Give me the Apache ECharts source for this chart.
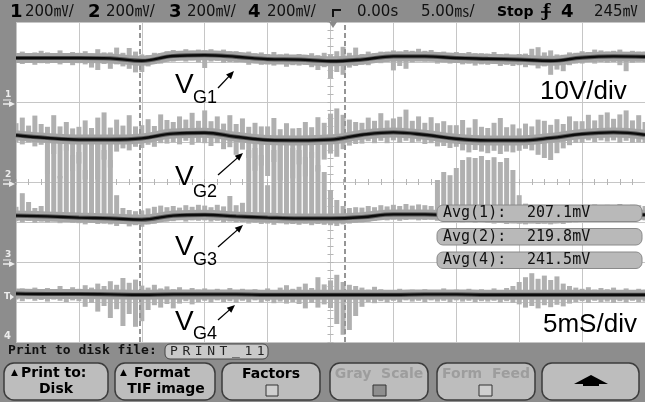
<!DOCTYPE html>
<html><head><meta charset="utf-8">
<script src="https://cdn.jsdelivr.net/npm/echarts@6/dist/echarts.min.js"></script>
<style>html,body{margin:0;padding:0;background:#8d8d8d}#c{width:645px;height:402px}</style>
</head><body><div id="c"></div>
<script>
// ---------------- DATA ----------------
// trace sample times (ms) and averaged gate voltages (V) per channel
const traceTimes = [-25,-22.5,-20,-17.5,-15,-12.5,-10,-7.5,-5,-2.5,0,2.5,5,7.5,10,12.5,15,17.5,20,22.5,25];
const ch1Trace = [11.0,11.0,11.0,10.9,10.3,11.5,11.7,11.3,10.7,10.6,10.2,10.6,11.4,11.4,11.0,10.8,10.6,10.3,11.1,11.4,11.3];
const ch2Trace = [11.7,11.0,10.6,10.6,10.9,12.1,12.3,11.3,10.5,10.4,10.6,11.8,12.4,11.8,10.8,10.4,10.4,11.0,12.0,12.4,11.8];
const ch3Trace = [11.6,11.4,11.1,10.9,10.6,11.6,11.8,11.4,11.1,10.9,10.9,11.2,11.9,11.9,11.5,11.1,10.9,10.9,11.5,11.9,11.8];
const ch4Trace = [12.1,12.0,12.0,11.9,11.8,11.9,11.9,11.9,11.8,11.8,11.8,11.8,11.8,11.9,11.9,11.8,11.8,11.8,11.8,11.8,11.8];

// noise envelope sample times (ms)
const noiseTimes = [-25,-24.5,-24,-23.5,-23,-22.5,-22,-21.5,-21,-20.5,-20,-19.5,-19,-18.5,-18,-17.5,-17,-16.5,-16,-15.5,-15,-14.5,-14,-13.5,-13,-12.5,-12,-11.5,-11,-10.5,-10,-9.5,-9,-8.5,-8,-7.5,-7,-6.5,-6,-5.5,-5,-4.5,-4,-3.5,-3,-2.5,-2,-1.5,-1,-0.5,0,0.5,1,1.5,2,2.5,3,3.5,4,4.5,5,5.5,6,6.5,7,7.5,8,8.5,9,9.5,10,10.5,11,11.5,12,12.5,13,13.5,14,14.5,15,15.5,16,16.5,17,17.5,18,18.5,19,19.5,20,20.5,21,21.5,22,22.5,23,23.5,24,24.5,25];

const ch1Hi = [12.2,12.6,12.0,12.4,12.8, 12.4,12.0,12.9,12.2,12.5, 12.3,12.7,12.1,13.2,12.4, 12.4,13.6,12.3,13.5,12.6, 11.9,11.7,12.3,12.2,12.7, 13.0,12.7,13.2,12.8,13.1, 12.9,13.2,12.6,13.1,12.7, 12.7,12.3,12.6,12.2,12.4, 12.0,12.5,11.9,12.1,11.7, 12.0,11.8,12.2,11.7,12.3, 11.8,12.7,13.8,12.3,13.6, 12.0,12.6,12.2,12.6,12.6, 12.9,12.6,13.0,12.8,13.3, 12.8,13.0,12.5,12.6,12.3, 12.5,12.2,12.5,12.2,12.2, 12.1,12.5,11.9,12.1,11.7, 12.0,12.1,13.3,13.7,12.4, 12.9,11.9,11.8,12.4,12.3, 12.7,12.5,13.1,12.9,12.6, 12.8,13.1,12.5,12.8,12.6, 12.6];
const ch1Lo = [9.8,9.5,10.0,9.3,9.7, 9.6,9.9,9.4,9.8,9.2, 9.7,9.4,8.6,8.0,9.5, 8.3,9.4,8.9,8.3,7.4, 7.5,8.9,9.5,9.6,10.1, 10.1,10.5,10.1,10.4,9.9, 8.5,10.1,10.3,9.8,10.0, 9.9,10.1,9.3,9.7,9.3, 9.4,9.1,9.5,8.8,9.2, 9.1,9.3,8.7,8.0,8.7, 6.0,7.5,6.8,8.6,9.0, 9.3,9.2,9.8,9.7,10.0, 7.9,9.0,8.3,9.9,10.2, 10.1,10.2,9.6,9.9,9.6, 9.8,9.4,9.6,9.1,9.4, 9.3,9.5,9.0,9.3,9.0, 9.2,8.7,9.2,8.4,8.9, 6.8,8.1,7.7,9.2,9.6, 9.6,10.0,9.6,10.0,9.8, 10.0,9.2,7.7,9.8,10.1, 10.0];

const ch2Hi = [14.7,16.1,14.1,16.6,14.5, 13.8,16.7,13.9,15.0,13.4, 13.8,15.4,13.5,16.1,17.4, 13.6,15.6,14.1,16.7,13.9, 14.2,15.7,14.0,16.9,15.5, 15.0,16.4,15.6,17.3,15.3, 17.9,15.2,16.4,14.6,16.7, 14.5,15.9,13.8,14.8,13.9, 13.9,16.0,13.2,14.7,13.4, 13.5,15.0,13.7,16.2,14.8, 17.1,18.4,16.8,15.6,15.0, 14.8,16.1,15.3,17.2,15.4, 15.9,16.3,18.1,15.3,16.4, 14.8,16.2,14.7,15.2,14.2, 14.2,15.5,13.6,15.7,13.8, 13.5,14.8,16.0,13.7,14.4, 13.4,14.6,13.9,15.6,15.3, 14.3,15.7,14.5,16.4,15.2, 15.2,16.8,15.4,16.8,17.4, 15.8,16.9,17.9,15.4,16.7, 15.0];
const ch2Lo = [9.9,9.4,9.9,8.9,9.3, 2.0,7.0,0.9,7.8,2.7, 4.6,0.6,2.1,0.6,5.6, 3.6,7.6,8.4,7.9,8.8, 8.5,9.3,8.8,9.7,9.6, 9.9,9.4,10.3,9.3,9.9, 9.7,9.0,9.7,8.2,8.7, 6.8,8.1,6.0,2.8,4.1, 1.5,5.0,0.4,3.4,0.9, 4.4,1.4,6.0,2.6,5.6, 7.1,6.3,8.2,9.1,9.5, 9.6,10.2,9.7,10.3,9.7, 10.4,9.8,10.3,9.8,10.1, 9.5,9.7,8.9,9.0,8.5, 8.8,7.9,7.4,8.0,7.6, 7.2,7.8,7.0,7.6,7.4, 7.8,8.3,7.9,6.8,6.0, 5.5,7.2,8.4,9.2,9.8, 9.8,10.4,10.0,10.4,10.1, 10.4,9.8,10.3,9.8,9.9, 9.8];

const ch3Hi = [13.8,17.2,15.0,13.5,14.0, 28.0,29.7,21.5,29.2,26.7, 27.5,23.0,29.2,29.7,28.0, 25.5,16.7,13.5,13.0,12.7, 12.9,13.4,13.8,14.1,13.7, 14.0,13.6,14.2,13.8,14.3, 14.1,13.7,14.3,13.9,16.5, 14.2,14.8,28.0,28.5,26.7, 19.2,28.0,29.2,27.5,28.5, 28.0,26.2,27.5,24.2,22.5, 18.0,15.5,14.0,13.5,13.7, 13.6,14.0,13.7,14.2,13.9, 14.3,14.0,14.5,14.1,14.4, 14.2,14.0,20.5,22.5,21.7, 23.5,25.5,26.2,26.0,26.5, 25.5,26.2,25.0,26.0,23.0, 16.7,14.6,13.9,14.2,13.8, 13.7,14.1,13.6,14.0,13.8, 14.2,13.9,14.4,14.0,14.3, 14.1,14.5,14.0,14.3,14.2, 14.0];
const ch3Lo = [10.2,9.9,10.3,9.8,10.1, 9.9,10.2,9.7,10.0,9.8, 9.7,9.4,9.8,9.5,9.6, 9.4,9.0,9.5,8.9,9.2, 8.8,9.4,9.6,10.0,10.1, 10.2,10.5,10.1,10.4,10.3, 10.4,10.1,10.3,9.9,10.1, 9.9,10.0,9.6,9.8,9.5, 9.6,9.3,9.7,9.4,9.5, 9.3,9.6,9.2,9.5,9.3, 9.2,9.0,9.4,9.6,9.8, 9.9,10.1,10.3,10.5,10.4, 10.6,10.3,10.5,10.7,10.4, 10.5,10.6,10.3,10.2,10.1, 10.1,9.9,10.2,9.8,10.0, 9.8,9.6,9.9,9.5,9.7, 9.6,9.4,9.7,9.5,9.6, 9.4,9.7,9.5,9.8,9.9, 10.1,10.3,10.0,10.4,10.5, 10.6,10.4,10.5,10.3,10.4, 10.4];

const ch4Hi = [12.8,13.4,12.9,13.6,13.1, 13.5,12.9,14.0,13.2,13.7, 13.3,14.2,13.6,14.6,14.0, 15.2,14.3,16.0,14.8,15.6, 14.1,13.6,14.3,13.4,13.9, 13.2,13.7,13.0,13.5,13.1, 13.4,12.9,13.3,13.0,13.5, 12.9,13.3,12.8,13.2,12.9, 13.4,13.0,13.6,14.2,13.3, 13.8,14.6,13.5,16.2,14.4, 15.4,16.8,15.0,14.3,14.0, 13.6,13.1,13.8,13.2,13.0, 12.9,13.3,12.8,13.1,12.9, 13.2,12.8,13.0,13.4,12.9, 13.1,12.8,13.3,12.9,13.2, 13.0,13.4,12.9,13.5,14.0, 15.0,16.2,17.2,15.8,16.6, 15.5,16.4,14.6,14.0,13.6, 13.3,13.7,13.1,13.5,13.2, 13.6,13.0,13.4,12.9,13.3, 13.1];
const ch4Lo = [10.6,10.2,10.7,10.3,10.5, 10.1,10.6,10.3,10.0,10.4, 10.2,8.8,9.8,7.6,9.0, 6.0,8.2,4.0,7.0,3.8, 5.2,8.0,9.2,8.6,9.5, 8.4,9.6,10.2,9.4,10.0, 10.3,9.9,10.4,10.0,10.2, 9.8,10.3,10.0,10.4,9.9, 10.2,9.7,10.1,9.6,10.0, 9.5,8.4,9.8,8.6,9.4, 8.5,4.5,1.8,3.0,6.5, 8.8,10.0,9.7,10.2,9.9, 10.3,10.0,10.4,10.1,10.3, 10.0,10.4,10.1,10.3,10.0, 10.4,10.1,10.3,10.0,10.2, 10.1,10.3,9.9,10.2,9.8, 9.4,8.6,9.0,8.4,9.2, 8.7,9.3,8.9,9.6,10.0, 10.2,9.8,10.3,10.0,10.1, 9.8,10.2,9.9,10.3,10.0, 10.1];

const cursorTimes = [-15.2, 1.1];
const chanNums = ['1','2','3','4'];
const chanScales = ['200㎷/','200㎷/','200㎷/','200㎷/'];
const timeRef = '0.00s', timeScale = '5.00㎳/', runState = 'Stop', trigSrc = '4', trigLevel = '245㎷';
const avgNames = ['Avg(1):','Avg(2):','Avg(4):'];
const avgValues = ['207.1mV','219.8mV','241.5mV'];
const gateSubs = ['G1','G2','G3','G4'];
const voltDiv = '10V/div', timeDiv = '5mS/div';
const fileLabel = 'Print to disk file:', fileName = 'PRINT_11';
const softkeys = [['Print to:','Disk'],['Format','TIF image'],['Factors',''],['Gray  Scale',''],['Form  Feed','']];

// ---------------- CHART ----------------
const chart = echarts.init(document.getElementById('c'), null, {renderer:'canvas'});
const GRID = '#c6c6c6';
const noise = [[ch1Lo,ch1Hi],[ch2Lo,ch2Hi],[ch3Lo,ch3Hi],[ch4Lo,ch4Hi]];
const traces = [ch1Trace,ch2Trace,ch3Trace,ch4Trace];

function noiseSeries(k){
  return {type:'custom', xAxisIndex:0, yAxisIndex:k, silent:true, clip:true, z:2, animation:false,
    data: noiseTimes.map((t,i)=>[t, noise[k][0][i], noise[k][1][i]]),
    encode:{x:0, y:[1,2]},
    renderItem:function(params, api){
      const a = api.coord([api.value(0), api.value(1)]);
      const b = api.coord([api.value(0), api.value(2)]);
      return {type:'rect', shape:{x:a[0]-2.5, y:b[1], width:5, height:a[1]-b[1]}, style:{fill:'#b0b0b0'}};
    }};
}
function traceSeries(k, width, color, z, extra){
  return Object.assign({type:'line', xAxisIndex:0, yAxisIndex:k, silent:true, smooth:0.4, showSymbol:false, z:z, animation:false,
    data: traceTimes.map((t,i)=>[t, traces[k][i]]),
    lineStyle:{width:width, color:color}}, extra||{});
}
const series = [];
for(let k=0;k<4;k++) series.push(noiseSeries(k));
for(let k=0;k<4;k++) series.push(traceSeries(k, 10, '#a6a6a6', 3, k===0 ? {
  markLine:{silent:true, symbol:'none', label:{show:false}, z:3,
    lineStyle:{type:[5,3], color:'#959595', width:2},
    data: cursorTimes.map(t=>({xAxis:t}))}} : {}));
for(let k=0;k<4;k++) series.push(traceSeries(k, 4.2, '#5c5c5c', 4));
for(let k=0;k<4;k++) series.push(traceSeries(k, 2.4, '#0c0c0c', 5));

const axisCommon = {axisLabel:{show:false}};
const xAxes = [
  Object.assign({type:'value', min:-25, max:25, interval:5, position:'bottom',
    axisLine:{show:true, onZero:true, onZeroAxisIndex:1, lineStyle:{color:GRID, width:1}},
    axisTick:{show:true, length:3, lineStyle:{color:'#b5b5b5'}},
    minorTick:{show:true, splitNumber:5, length:3, lineStyle:{color:'#b5b5b5'}},
    splitLine:{show:true, lineStyle:{color:GRID, width:1}}}, axisCommon),
  Object.assign({type:'value', min:-25, max:25, interval:5, position:'top',
    axisLine:{show:true, onZero:true, onZeroAxisIndex:1, lineStyle:{color:GRID, width:1}},
    axisTick:{show:true, length:3, lineStyle:{color:'#b5b5b5'}},
    minorTick:{show:true, splitNumber:5, length:3, lineStyle:{color:'#b5b5b5'}},
    splitLine:{show:false}}, axisCommon)
];
const yAxes = [
  Object.assign({type:'value', min:-60, max:20, interval:10, position:'left',
    axisLine:{show:true, onZero:true, onZeroAxisIndex:0, lineStyle:{color:GRID}},
    axisTick:{show:true, length:3, lineStyle:{color:'#b5b5b5'}},
    minorTick:{show:true, splitNumber:5, length:3, lineStyle:{color:'#b5b5b5'}},
    splitLine:{show:true, lineStyle:{color:GRID, width:1}}}, axisCommon),
  Object.assign({type:'value', min:-40, max:40, interval:10, position:'right',
    axisLine:{show:true, onZero:true, onZeroAxisIndex:0, lineStyle:{color:GRID}},
    axisTick:{show:true, length:3, lineStyle:{color:'#b5b5b5'}},
    minorTick:{show:true, splitNumber:5, length:3, lineStyle:{color:'#b5b5b5'}},
    splitLine:{show:false}}, axisCommon),
  {type:'value', min:-20, max:60, interval:10, show:false},
  {type:'value', min:0, max:80, interval:10, show:false}
];

// ---------------- GRAPHIC (chrome & annotations) ----------------
const G = [];
function txt(x,y,text,font,fill,align){
  G.push({type:'text', z:100, silent:true, style:{x:x, y:y, text:text, font:font, fill:fill||'#000',
    textAlign:align||'left', textVerticalAlign:'middle', align:align||'left', verticalAlign:'middle'}});
}
function rect(x,y,w,h,r,fill,stroke,lw){
  G.push({type:'rect', z:99, silent:true, shape:{x:x,y:y,width:w,height:h,r:r}, style:{fill:fill, stroke:stroke||null, lineWidth:lw||0}});
}
function poly(pts,fill){ G.push({type:'polygon', z:100, silent:true, shape:{points:pts}, style:{fill:fill}}); }
function seg(x1,y1,x2,y2,stroke,lw){ G.push({type:'line', z:100, silent:true, shape:{x1:x1,y1:y1,x2:x2,y2:y2}, style:{stroke:stroke,lineWidth:lw}}); }
function arrow(x1,y1,x2,y2){
  const dx=x2-x1, dy=y2-y1, L=Math.hypot(dx,dy), ux=dx/L, uy=dy/L, hl=8, hw=3.4;
  const bx=x2-ux*hl, by=y2-uy*hl;
  seg(x1,y1,bx+ux,by+uy,'#000',1.3);
  poly([[x2,y2],[bx-uy*hw,by+ux*hw],[bx+uy*hw,by-ux*hw]],'#000');
}

// top status bar
const topFont = '15px "DejaVu Sans", "Noto Sans CJK SC", sans-serif';
const bigFont = 'bold 18px "DejaVu Sans", sans-serif';
const numX = [10, 88, 169, 248], scaleX = [25, 106, 187, 267];
for(let i=0;i<4;i++){ txt(numX[i], 12, chanNums[i], bigFont, '#000'); txt(scaleX[i], 12, chanScales[i], topFont, '#111'); }
G.push({type:'polyline', z:100, silent:true, shape:{points:[[341,10],[333,10],[333,17]]}, style:{stroke:'#111', lineWidth:2, fill:null}});
poly([[329,22],[337,22],[333,28]], '#8a8a8a');
txt(357, 12, timeRef, topFont, '#111');
txt(421, 12, timeScale, topFont, '#111');
txt(497, 12, runState, 'bold 14px "DejaVu Sans", sans-serif', '#000');
txt(543, 12, 'ƒ', 'bold 16px "DejaVu Serif", serif', '#000');
seg(541, 12, 551, 12, '#000', 1.5);
txt(561, 12, trigSrc, bigFont, '#000');
txt(594, 12, trigLevel, topFont, '#111');

// ground markers on left strip
const mk = '#ececec';
const gnd = [[chanNums[0],102],[chanNums[1],182],[chanNums[2],262]];
gnd.forEach(g=>{ txt(5, g[1]-7, g[0], 'bold 9px "DejaVu Sans", sans-serif', mk); seg(3, g[1]-2, 11, g[1]-2, mk, 1); poly([[9,g[1]-1],[15,g[1]+2],[9,g[1]+5]], mk); seg(3,g[1]+2,10,g[1]+2,mk,1.5); });
txt(4, 297, 'T', 'bold 9px "DejaVu Sans", sans-serif', mk); poly([[10,294],[14,297],[10,300]], mk);
txt(4, 336, chanNums[3], 'bold 10px "DejaVu Sans", sans-serif', mk);

// gate labels + arrows
const annFontV = '28px "Liberation Sans", Arial, sans-serif';
const annFontS = '18px "Liberation Sans", Arial, sans-serif';
const annPos = [[85,98.5,[218,88,234,71]],[177.5,192.5,[218,175,243,153]],[247,260.5,[218,247,243,225]],[322,334,[218,320,235,305]]];
annPos.forEach((p,i)=>{ txt(175, p[0], 'V', annFontV, '#000'); txt(193, p[1], gateSubs[i], annFontS, '#000'); arrow(p[2][0],p[2][1],p[2][2],p[2][3]); });
txt(540, 92, voltDiv, '26px "Liberation Sans", Arial, sans-serif', '#000');
txt(543, 325, timeDiv, '26px "Liberation Sans", Arial, sans-serif', '#000');

// average measurement boxes
const avgY = [205, 228.5, 252];
avgY.forEach((y,i)=>{ rect(437, y, 205, 16.5, 6, '#b9b9b9', '#8a8a8a', 1);
  txt(443, y+8.5, avgNames[i], '15px "DejaVu Sans Mono", monospace', '#111');
  txt(527, y+8.5, avgValues[i], '15px "DejaVu Sans Mono", monospace', '#111'); });

// bottom panel
txt(8, 351, fileLabel, 'bold 13px "DejaVu Sans Mono", monospace', '#111');
rect(165, 344, 103, 15, 5, '#c9c9c9', '#444', 1);
for(let i=0;i<fileName.length;i++) txt(170+i*12.4, 352, fileName[i], '13px "DejaVu Sans Mono", monospace', '#222');

const keyX = [4,115,222,330,437,542], keyW = [104,100,98,98,98,97];
keyX.forEach((x,i)=> rect(x, 363, keyW[i], 37, 10, '#bdbdbd', '#3c3c3c', 1.5));
const kf = 'bold 14px "DejaVu Sans", sans-serif';
txt(11, 373, '▲', '9px "DejaVu Sans", sans-serif', '#000');
txt(21, 373, softkeys[0][0], kf, '#000');
txt(56, 389, softkeys[0][1], kf, '#000', 'center');
txt(120, 373, '▲', '9px "DejaVu Sans", sans-serif', '#000');
txt(134, 373, softkeys[1][0], kf, '#000');
txt(166, 389, softkeys[1][1], kf, '#000', 'center');
txt(271, 374, softkeys[2][0], kf, '#000', 'center');
txt(379, 374, softkeys[3][0], kf, '#9d9d9d', 'center');
txt(486, 374, softkeys[4][0], kf, '#9d9d9d', 'center');
rect(266, 385, 12, 11, 0, '#cfcfcf', '#333', 1);
rect(373, 385, 13, 11, 0, '#8e8e8e', '#333', 1);
rect(479, 385, 13, 11, 0, '#cfcfcf', '#333', 1);
poly([[591,375],[608,384],[574,384]], '#000');
rect(583, 383, 16, 3, 0, '#000');

chart.setOption({
  animation:false,
  backgroundColor:'#8d8d8d',
  grid:{left:16, top:22, width:634, height:320, show:true, backgroundColor:'#ffffff', borderWidth:0},
  xAxis:xAxes,
  yAxis:yAxes,
  series:series,
  graphic:{elements:G}
});
</script>
</body></html>
